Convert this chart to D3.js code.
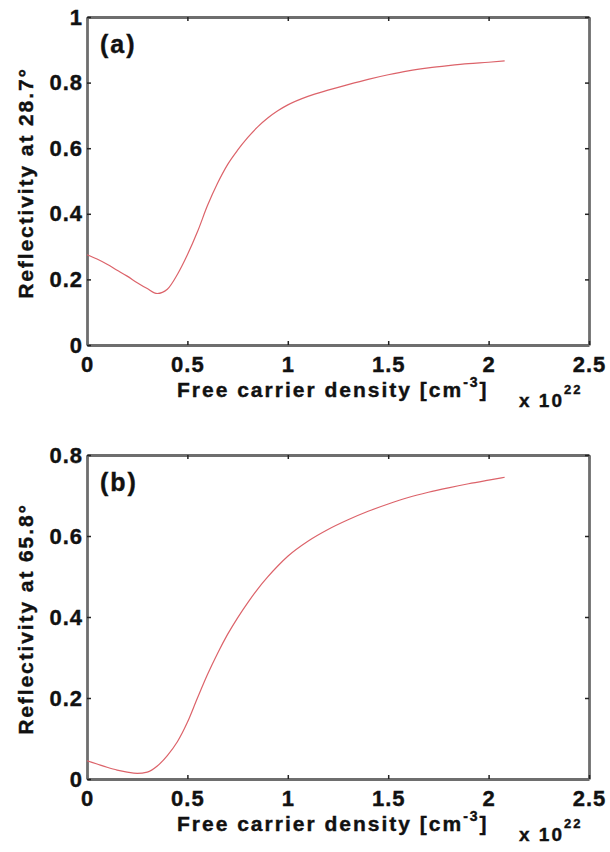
<!DOCTYPE html>
<html>
<head>
<meta charset="utf-8">
<script src="https://cdn.jsdelivr.net/npm/d3@7"></script>
<style>
  body { margin: 0; background: #fff; }
  svg { display: block; }
  text { font-family: "Liberation Sans", Arial, sans-serif; font-weight: bold; fill: #111; stroke: #111; stroke-width: 0.4px; }
</style>
</head>
<body>
<svg id="chart" width="610" height="852"></svg>
<script>
// Free carrier density, in units of 1e22 cm^-3
const densityA = [0, 0.05, 0.1, 0.15, 0.2, 0.25, 0.3, 0.35, 0.4, 0.45, 0.5, 0.55, 0.6, 0.65, 0.7, 0.75, 0.8, 0.85, 0.9, 0.95, 1.0, 1.1, 1.2, 1.3, 1.4, 1.5, 1.6, 1.7, 1.8, 1.9, 2.0, 2.08];
const reflA = [0.275, 0.262, 0.246, 0.228, 0.210, 0.190, 0.172, 0.157, 0.170, 0.215, 0.275, 0.345, 0.425, 0.493, 0.550, 0.594, 0.632, 0.665, 0.692, 0.714, 0.732, 0.758, 0.777, 0.794, 0.810, 0.824, 0.836, 0.845, 0.852, 0.858, 0.862, 0.866];

const densityB = [0, 0.05, 0.1, 0.15, 0.2, 0.25, 0.3, 0.35, 0.4, 0.45, 0.5, 0.55, 0.6, 0.65, 0.7, 0.75, 0.8, 0.85, 0.9, 0.95, 1.0, 1.1, 1.2, 1.3, 1.4, 1.5, 1.6, 1.7, 1.8, 1.9, 2.0, 2.08];
const reflB = [0.045, 0.037, 0.029, 0.022, 0.017, 0.014, 0.017, 0.032, 0.058, 0.092, 0.140, 0.200, 0.258, 0.310, 0.357, 0.398, 0.435, 0.469, 0.499, 0.526, 0.550, 0.587, 0.616, 0.640, 0.661, 0.679, 0.695, 0.708, 0.719, 0.729, 0.738, 0.745];

const xTicks = [0, 0.5, 1, 1.5, 2, 2.5];
const yTicksA = [0, 0.2, 0.4, 0.6, 0.8, 1];
const yTicksB = [0, 0.2, 0.4, 0.6, 0.8];

const panels = [
    { tag: '(a)', angle: '28.7°', x: densityA, y: reflA, yMax: 1, yTicks: yTicksA, top: 17, bottom: 345 },
    { tag: '(b)', angle: '65.8°', x: densityB, y: reflB, yMax: 0.8, yTicks: yTicksB, top: 455, bottom: 779 }
];

const left = 87, right = 589;
const svg = d3.select('#chart');
const fmt = d3.format('~g');

function styleAxis(g) {
    g.select('.domain').attr('stroke', '#6e6e6e').attr('stroke-width', 2.8);
    g.selectAll('.tick line').attr('stroke', '#222').attr('stroke-width', 1.5);
    g.selectAll('.tick text')
        .attr('font-size', 22)
        .attr('letter-spacing', '1px')
        .attr('fill', '#111');
}

function drawPanel(p) {
    const x = d3.scaleLinear().domain([0, 2.5]).range([left, right]);
    const y = d3.scaleLinear().domain([0, p.yMax]).range([p.bottom, p.top]);

    // Mirrored axes without labels (top / right)
    svg.append('g')
        .attr('transform', `translate(0,${p.top})`)
        .call(d3.axisTop(x).tickValues(xTicks).tickSize(-4).tickSizeOuter(0).tickFormat(''))
        .call(styleAxis);
    svg.append('g')
        .attr('transform', `translate(${right},0)`)
        .call(d3.axisRight(y).tickValues(p.yTicks).tickSize(-4).tickSizeOuter(0).tickFormat(''))
        .call(styleAxis);

    svg.append('g')
        .attr('transform', `translate(0,${p.bottom})`)
        .call(d3.axisBottom(x).tickValues(xTicks).tickSize(-4).tickSizeOuter(0).tickPadding(11).tickFormat(fmt))
        .call(styleAxis);
    svg.append('g')
        .attr('transform', `translate(${left},0)`)
        .call(d3.axisLeft(y).tickValues(p.yTicks).tickSize(-4).tickSizeOuter(0).tickPadding(4).tickFormat(fmt))
        .call(styleAxis);

    // Curve
    const line = d3.line()
        .x((d, i) => x(p.x[i]))
        .y(d => y(d))
        .curve(d3.curveMonotoneX);

    svg.append('path')
        .datum(p.y)
        .attr('fill', 'none')
        .attr('stroke', '#dc636a')
        .attr('stroke-width', 1.2)
        .attr('d', line);

    // Panel tag
    svg.append('text')
        .attr('x', left + 13)
        .attr('y', p.top + 36)
        .attr('font-size', 25)
        .attr('letter-spacing', '2px')
        .text(p.tag);

    // Y axis label
    svg.append('text')
        .attr('transform', `translate(33,${(p.top + p.bottom) / 2 + 2}) rotate(-90)`)
        .attr('text-anchor', 'middle')
        .attr('font-size', 21)
        .attr('letter-spacing', '1.9px')
        .text('Reflectivity at ' + p.angle);

    // X axis label
    const xt = svg.append('text')
        .attr('x', 177)
        .attr('y', p.bottom + 52)
        .attr('font-size', 21)
        .attr('letter-spacing', '2px');
    xt.append('tspan').text('Free carrier density [cm');
    xt.append('tspan').attr('font-size', 14).attr('dy', -10).text('-3');
    xt.append('tspan').attr('dy', 10).text(']');

    // Exponent
    const ex = svg.append('text')
        .attr('x', 519)
        .attr('y', p.bottom + 62)
        .attr('font-size', 19)
        .attr('letter-spacing', '2px');
    ex.append('tspan').text('x 10');
    ex.append('tspan').attr('font-size', 13).attr('dy', -13).text('22');
}

panels.forEach(drawPanel);
</script>
</body>
</html>
